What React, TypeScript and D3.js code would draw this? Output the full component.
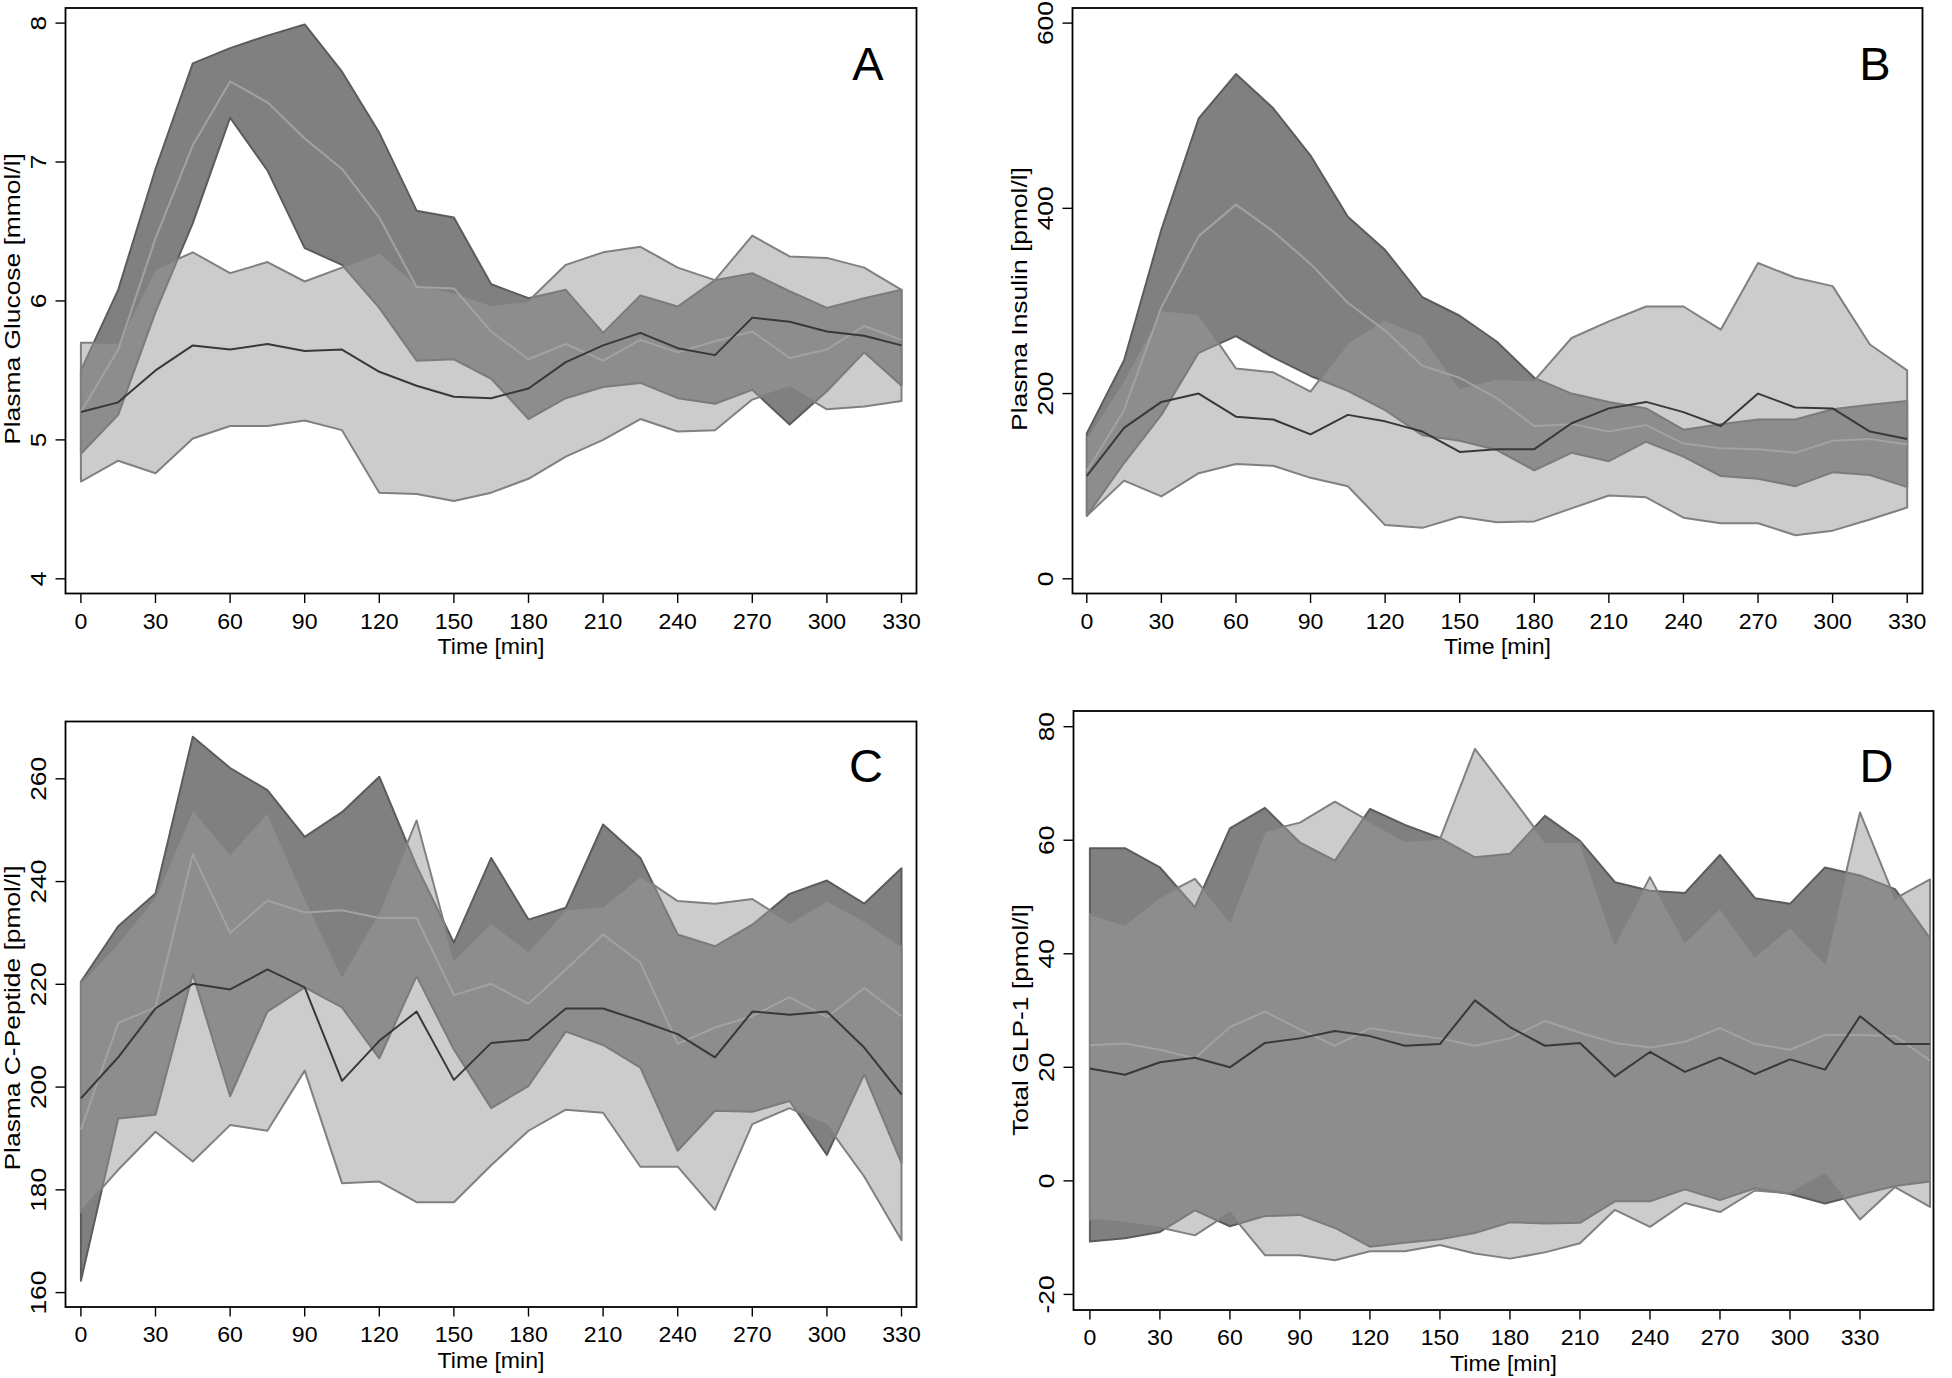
import React from 'react';
import * as d3 from 'd3';

// ---------- time axes ----------
const timeMain = [0, 15, 30, 45, 60, 75, 90, 105, 120, 135, 150, 165, 180, 195, 210, 225, 240, 255, 270, 285, 300, 315, 330];
const timeGlp = [0, 15, 30, 45, 60, 75, 90, 105, 120, 135, 150, 165, 180, 195, 210, 225, 240, 255, 270, 285, 300, 315, 330, 345, 360];
const xTickLabels = [0, 30, 60, 90, 120, 150, 180, 210, 240, 270, 300, 330];

// ---------- A: plasma glucose ----------
const glucoseDarkUpper = [5.50, 6.08, 6.95, 7.71, 7.82, 7.91, 7.99, 7.65, 7.21, 6.65, 6.60, 6.12, 6.02, 6.08, 5.77, 6.04, 5.96, 6.15, 6.20, 6.07, 5.95, 6.02, 6.08];
const glucoseDarkLower = [4.90, 5.18, 5.92, 6.56, 7.32, 6.94, 6.38, 6.26, 5.95, 5.57, 5.58, 5.44, 5.15, 5.30, 5.38, 5.41, 5.30, 5.26, 5.36, 5.11, 5.35, 5.63, 5.39];
const glucoseLightUpper = [5.70, 5.70, 6.23, 6.35, 6.20, 6.28, 6.14, 6.24, 6.35, 6.12, 6.06, 5.97, 6.00, 6.26, 6.35, 6.39, 6.24, 6.15, 6.47, 6.32, 6.31, 6.24, 6.08];
const glucoseLightLower = [4.70, 4.85, 4.76, 5.01, 5.10, 5.10, 5.14, 5.07, 4.62, 4.61, 4.56, 4.62, 4.72, 4.88, 5.00, 5.15, 5.06, 5.07, 5.29, 5.38, 5.22, 5.24, 5.28];
const glucoseDarkBandMean = [5.20, 5.65, 6.45, 7.12, 7.58, 7.43, 7.17, 6.95, 6.60, 6.10, 6.09, 5.78, 5.58, 5.69, 5.57, 5.72, 5.63, 5.71, 5.78, 5.59, 5.65, 5.82, 5.72];
const glucoseLightBandMean = [5.20, 5.27, 5.50, 5.68, 5.65, 5.69, 5.64, 5.65, 5.49, 5.39, 5.31, 5.30, 5.37, 5.56, 5.68, 5.77, 5.66, 5.61, 5.88, 5.85, 5.78, 5.75, 5.68];
const glucoseYTicks = [4, 5, 6, 7, 8];

// ---------- B: plasma insulin ----------
const insulinDarkUpper = [157, 236, 377, 497, 545, 508, 457, 391, 355, 304, 284, 256, 217, 200, 191, 184, 161, 167, 172, 172, 183, 188, 192];
const insulinDarkLower = [68, 125, 177, 244, 262, 239, 219, 203, 182, 155, 149, 139, 117, 136, 127, 148, 132, 111, 108, 100, 115, 112, 99];
const insulinLightUpper = [152, 215, 290, 286, 227, 223, 202, 255, 280, 263, 206, 216, 214, 260, 278, 294, 294, 269, 341, 325, 316, 253, 225];
const insulinLightLower = [68, 106, 89, 114, 124, 122, 109, 100, 58, 55, 67, 61, 62, 76, 90, 88, 66, 60, 60, 47, 52, 64, 77];
const insulinDarkBandMean = [116, 182, 293, 370, 404, 375, 340, 298, 268, 230, 217, 195, 165, 167, 159, 166, 146, 141, 140, 136, 149, 151, 145];
const insulinLightBandMean = [111, 163, 191, 200, 175, 172, 156, 177, 170, 159, 137, 140, 140, 168, 184, 191, 180, 165, 200, 185, 184, 159, 151];
const insulinYTicks = [0, 200, 400, 600];

// ---------- C: plasma C-peptide ----------
const cpepDarkUpper = [220.5, 231.3, 237.7, 268.2, 262.1, 257.8, 248.7, 253.5, 260.4, 243.0, 228.1, 244.6, 232.6, 234.9, 251.1, 244.6, 229.7, 227.4, 231.6, 237.6, 240.2, 235.7, 242.6];
const cpepDarkLower = [162.3, 193.9, 194.6, 222.0, 198.2, 214.7, 219.4, 215.5, 205.6, 221.6, 207.3, 195.9, 200.2, 210.8, 208.2, 203.8, 187.6, 195.4, 195.2, 197.3, 186.8, 202.5, 185.2];
const cpepLightUpper = [220.3, 228.1, 237.0, 254.1, 245.4, 253.5, 237.0, 221.6, 234.2, 251.9, 224.8, 232.0, 226.5, 234.6, 235.2, 241.1, 236.2, 235.7, 236.6, 232.0, 236.3, 232.4, 227.4];
const cpepLightLower = [175.7, 183.9, 191.3, 185.5, 192.6, 191.5, 203.2, 181.3, 181.6, 177.6, 177.6, 184.8, 191.5, 195.6, 195.0, 184.5, 184.5, 176.1, 192.8, 195.9, 192.6, 182.6, 170.2];
const cpepDarkBandMean = [191.7, 212.5, 215.5, 245.3, 230.0, 236.3, 234.0, 234.4, 232.9, 232.9, 217.9, 220.1, 216.2, 222.9, 229.7, 224.2, 208.4, 211.6, 213.8, 217.5, 213.6, 219.3, 213.8];
const cpepLightBandMean = [197.8, 205.8, 215.3, 220.1, 219.0, 222.9, 219.4, 201.2, 209.0, 214.7, 201.4, 208.6, 209.2, 215.3, 215.3, 212.9, 210.3, 205.8, 214.7, 214.1, 214.7, 207.7, 198.6];
const cpepYTicks = [160, 180, 200, 220, 240, 260];

// ---------- D: total GLP-1 ----------
const glpDarkUpper = [58.6, 58.6, 55.2, 48.2, 62.1, 65.7, 59.6, 56.4, 65.5, 62.7, 60.4, 57.0, 57.6, 64.3, 59.9, 52.6, 51.1, 50.7, 57.4, 49.8, 48.8, 55.2, 53.8, 51.4, 42.7];
const glpDarkLower = [-10.7, -10.1, -9.0, -5.2, -8.0, -6.2, -6.0, -8.3, -11.6, -10.9, -10.3, -9.2, -7.3, -7.5, -7.4, -3.6, -3.6, -1.5, -3.4, -1.3, -2.3, -4.0, -2.4, -0.9, -0.1];
const glpLightUpper = [47.0, 45.1, 50.0, 53.2, 45.7, 61.6, 63.1, 66.8, 63.3, 59.9, 60.2, 76.1, 68.0, 59.7, 59.7, 41.8, 53.5, 42.1, 48.1, 39.6, 44.7, 38.3, 64.9, 49.7, 53.1];
const glpLightLower = [-6.8, -7.4, -8.2, -9.6, -5.6, -13.1, -13.1, -14.0, -12.4, -12.4, -11.3, -12.8, -13.7, -12.6, -11.0, -5.1, -8.1, -3.9, -5.5, -1.7, -2.2, 1.2, -6.8, -1.1, -4.6];
const glpDarkBandMean = [23.9, 24.2, 23.1, 21.6, 27.1, 29.8, 26.7, 23.8, 26.9, 25.9, 25.1, 23.8, 25.1, 28.2, 26.1, 24.3, 23.5, 24.5, 26.9, 24.1, 23.1, 25.7, 25.7, 25.5, 21.2];
const glpLightBandMean = [19.8, 18.7, 20.9, 21.7, 20.0, 24.3, 25.1, 26.4, 25.5, 23.8, 24.1, 31.8, 27.1, 23.8, 24.3, 18.4, 22.7, 19.2, 21.7, 18.8, 21.4, 19.6, 29.0, 24.1, 24.1];
const glpYTicks = [-20, 0, 20, 40, 60, 80];

// ---------- styles ----------
const FONT = '"Liberation Sans", Arial, Helvetica, sans-serif';
const DARK_FILL = '#808080';
const DARK_EDGE = '#5c5c5c';
const LIGHT_FILL = '#999999';
const LIGHT_EDGE = '#808080';
const LIGHT_LINE = '#a2a2a2';
const DARK_LINE = '#383838';
const ROT_STRETCH = 1.2; // rotated labels are drawn elongated along their reading direction
const HOR_STRETCH = 1.05;

type PanelDef = {
  letter: string;
  letterX: number;
  letterY: number;
  yTitle: string;
  yTitleCenter: number;
  time: number[];
  darkUpper: number[];
  darkLower: number[];
  lightUpper: number[];
  lightLower: number[];
  darkBandMean: number[];
  lightBandMean: number[];
  yTicks: number[];
  frame: { l: number; r: number; t: number; b: number };
  xRange: [number, number];
  yDomain: [number, number];
  yRange: [number, number];
};

const panels: PanelDef[] = [
  {
    letter: 'A', letterX: 868, letterY: 80, yTitle: 'Plasma Glucose [mmol/l]', yTitleCenter: 299,
    time: timeMain, darkUpper: glucoseDarkUpper, darkLower: glucoseDarkLower,
    lightUpper: glucoseLightUpper, lightLower: glucoseLightLower,
    darkBandMean: glucoseDarkBandMean, lightBandMean: glucoseLightBandMean,
    yTicks: glucoseYTicks,
    frame: { l: 65.5, r: 916.5, t: 8, b: 593.5 },
    xRange: [80.9, 901.5], yDomain: [4, 8], yRange: [578.8, 23.1],
  },
  {
    letter: 'B', letterX: 1875, letterY: 80, yTitle: 'Plasma Insulin [pmol/l]', yTitleCenter: 299,
    time: timeMain, darkUpper: insulinDarkUpper, darkLower: insulinDarkLower,
    lightUpper: insulinLightUpper, lightLower: insulinLightLower,
    darkBandMean: insulinDarkBandMean, lightBandMean: insulinLightBandMean,
    yTicks: insulinYTicks,
    frame: { l: 1072.5, r: 1922.5, t: 8, b: 593.5 },
    xRange: [1086.8, 1907.2], yDomain: [0, 600], yRange: [578.8, 23.1],
  },
  {
    letter: 'C', letterX: 866, letterY: 781.5, yTitle: 'Plasma C-Peptide [pmol/l]', yTitleCenter: 1018,
    time: timeMain, darkUpper: cpepDarkUpper, darkLower: cpepDarkLower,
    lightUpper: cpepLightUpper, lightLower: cpepLightLower,
    darkBandMean: cpepDarkBandMean, lightBandMean: cpepLightBandMean,
    yTicks: cpepYTicks,
    frame: { l: 65.5, r: 916.5, t: 721.5, b: 1307 },
    xRange: [80.9, 901.5], yDomain: [160, 260], yRange: [1292.6, 778.8],
  },
  {
    letter: 'D', letterX: 1876.5, letterY: 781.5, yTitle: 'Total GLP-1 [pmol/l]', yTitleCenter: 1020,
    time: timeGlp, darkUpper: glpDarkUpper, darkLower: glpDarkLower,
    lightUpper: glpLightUpper, lightLower: glpLightLower,
    darkBandMean: glpDarkBandMean, lightBandMean: glpLightBandMean,
    yTicks: glpYTicks,
    frame: { l: 1073.5, r: 1933.5, t: 711, b: 1310 },
    xRange: [1089.9, 1860], yDomain: [-20, 80], yRange: [1294.4, 726.7],
  },
];

function Panel({ p }: { p: PanelDef }) {
  const x = d3.scaleLinear().domain([0, 330]).range(p.xRange);
  const y = d3.scaleLinear().domain(p.yDomain).range(p.yRange);
  const idx = p.time.map((_, i) => i);

  const area = (up: number[], lo: number[]) =>
    d3.area<number>()
      .x((i) => x(p.time[i]))
      .y0((i) => y(lo[i]))
      .y1((i) => y(up[i]))(idx) as string;
  const polyline = (vals: number[]) =>
    d3.line<number>().x((i) => x(p.time[i])).y((i) => y(vals[i]))(idx) as string;

  const { l, r, t, b } = p.frame;
  const midX = (l + r) / 2;

  return (
    <g>
      <path d={area(p.darkUpper, p.darkLower) + 'Z'} fill={DARK_FILL} stroke={DARK_EDGE} strokeWidth={2} strokeLinejoin="round" />
      <path d={area(p.lightUpper, p.lightLower) + 'Z'} fill={LIGHT_FILL} fillOpacity={0.5} stroke={LIGHT_EDGE} strokeWidth={2} strokeLinejoin="round" />
      <path d={polyline(p.darkBandMean)} fill="none" stroke={LIGHT_LINE} strokeWidth={2} strokeLinejoin="round" />
      <path d={polyline(p.lightBandMean)} fill="none" stroke={DARK_LINE} strokeWidth={2} strokeLinejoin="round" />

      <rect x={l} y={t} width={r - l} height={b - t} fill="none" stroke="#000" strokeWidth={1.8} />

      {xTickLabels.map((v) => (
        <g key={'x' + v}>
          <line x1={x(v)} x2={x(v)} y1={b} y2={b + 9.5} stroke="#000" strokeWidth={1.4} />
          <text transform={`translate(${x(v)}, ${b + 35}) scale(${HOR_STRETCH}, 1)`} textAnchor="middle" fontFamily={FONT} fontSize={22} fill="#000">{v}</text>
        </g>
      ))}
      {p.yTicks.map((v) => (
        <g key={'y' + v}>
          <line x1={l - 10} x2={l} y1={y(v)} y2={y(v)} stroke="#000" strokeWidth={1.4} />
          <text transform={`translate(${l - 20}, ${y(v)}) rotate(-90) scale(${ROT_STRETCH}, 1)`} textAnchor="middle" fontFamily={FONT} fontSize={22} fill="#000">{v}</text>
        </g>
      ))}
      <text transform={`translate(${midX}, ${b + 60.5}) scale(${HOR_STRETCH}, 1)`} textAnchor="middle" fontFamily={FONT} fontSize={22} fill="#000">Time [min]</text>
      <text transform={`translate(${l - 46}, ${p.yTitleCenter}) rotate(-90) scale(${ROT_STRETCH}, 1)`} textAnchor="middle" fontFamily={FONT} fontSize={22} fill="#000">{p.yTitle}</text>
      <text x={p.letterX} y={p.letterY} textAnchor="middle" fontFamily={FONT} fontSize={47} fill="#000">{p.letter}</text>
    </g>
  );
}

export default function App() {
  return (
    <svg
      width={1952}
      height={1378}
      viewBox="0 0 1952 1378"
      style={{ position: 'absolute', left: 0, top: 0, display: 'block', background: '#fff' }}
    >
      <rect x={0} y={0} width={1952} height={1378} fill="#fff" />
      {panels.map((p) => (
        <Panel key={p.letter} p={p} />
      ))}
    </svg>
  );
}
